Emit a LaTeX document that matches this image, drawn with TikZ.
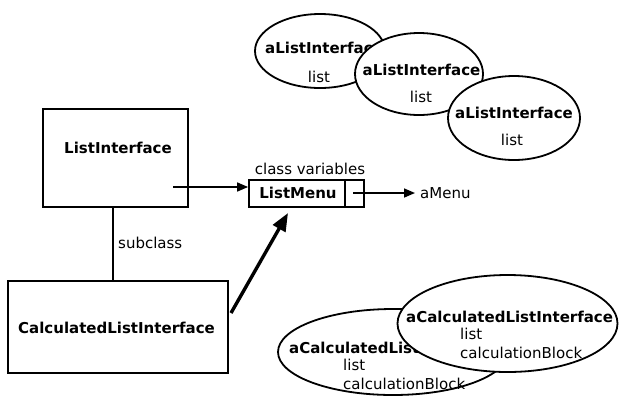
\documentclass[tikz,border=0pt]{standalone}
\usepackage{fontspec}
\setmainfont{DejaVu Sans}
\usetikzlibrary{arrows.meta,shapes.geometric}
\begin{document}
\begin{tikzpicture}[x=1pt,y=-1pt,
  font=\fontsize{15}{18.5}\selectfont,
  box/.style={draw, rectangle, line width=1.8pt, inner sep=0pt},
  obj/.style={draw, ellipse, line width=1.8pt, fill=white, inner sep=0pt},
  bold/.style={font=\fontsize{15}{18.5}\selectfont\bfseries, inner sep=0pt},
  plain/.style={inner sep=0pt},
  attrs/.style={inner sep=0pt, align=left, anchor=north west},
  conn/.style={line width=1.6pt},
  arr/.style={line width=1.6pt, -{Triangle[length=11pt,width=9pt]}},
  bigarr/.style={line width=3.4pt, -{Triangle[length=18pt,width=14pt]}},
]
\useasboundingbox (0,0) rectangle (620,400);

% classes
\node[box, minimum width=145pt, minimum height=98pt] (li) at (115.5,158) {};
\node[bold] (litext) at (118,148) {ListInterface};
\node[box, minimum width=220pt, minimum height=92pt] (cli) at (118,327) {};
\node[bold] (clitext) at (116.5,328) {CalculatedListInterface};

% subclass link
\coordinate (sx) at (113,0);
\draw[conn] (sx |- li.south) -- (sx |- cli.north);
\node[plain, anchor=west] (sub) at (118,243) {subclass};

% class variables
\node[box, minimum width=115pt, minimum height=27pt] (lm) at (306.5,193.5) {};
\coordinate (dv) at (345,0);
\draw[line width=1.6pt] (dv |- lm.north) -- (dv |- lm.south);
\node[bold] (lmtext) at (298,193) {ListMenu};
\node[plain] (cv) at (310,169) {class variables};

% arrows
\coordinate (a1) at (173,187);
\draw[arr] (a1) -- (a1 -| lm.west);
\node[plain, anchor=west] (amenu) at (420,193) {aMenu};
\coordinate (a2) at (353,193);
\draw[arr] (a2) -- ([xshift=-5pt]a2 -| amenu.west);
\coordinate (a3) at (231,313);
\coordinate (a3e) at (288,213);
\draw[bigarr] (a3) -- (a3e);

% list interface instances
\node[obj, minimum width=130pt, minimum height=74pt] (e1) at (320,51) {};
\node[bold] (e1t) at (324,48) {aListInterface};
\node[plain] (e1l) at (319,77) {list};
\node[obj, minimum width=128pt, minimum height=82pt] (e2) at (419,74) {};
\node[bold] (e2t) at (421.5,70) {aListInterface};
\node[plain] (e2l) at (421,97) {list};
\node[obj, minimum width=132pt, minimum height=84pt] (e3) at (514,118) {};
\node[bold] (e3t) at (514,113) {aListInterface};
\node[plain] (e3l) at (512,140) {list};

% calculated list interface instances
\node[obj, minimum width=230pt, minimum height=86pt] (ea) at (393,352) {};
\node[bold, anchor=west] (eat) at (289,348) {aCalculatedListInterface};
\node[attrs] (eaa) at (343,359) {list\\calculationBlock};
\node[obj, minimum width=220pt, minimum height=97pt] (eb) at (507.5,323.5) {};
\node[bold, anchor=west] (ebt) at (406,317) {aCalculatedListInterface};
\node[attrs] (eba) at (460,328) {list\\calculationBlock};
\end{tikzpicture}
\end{document}
